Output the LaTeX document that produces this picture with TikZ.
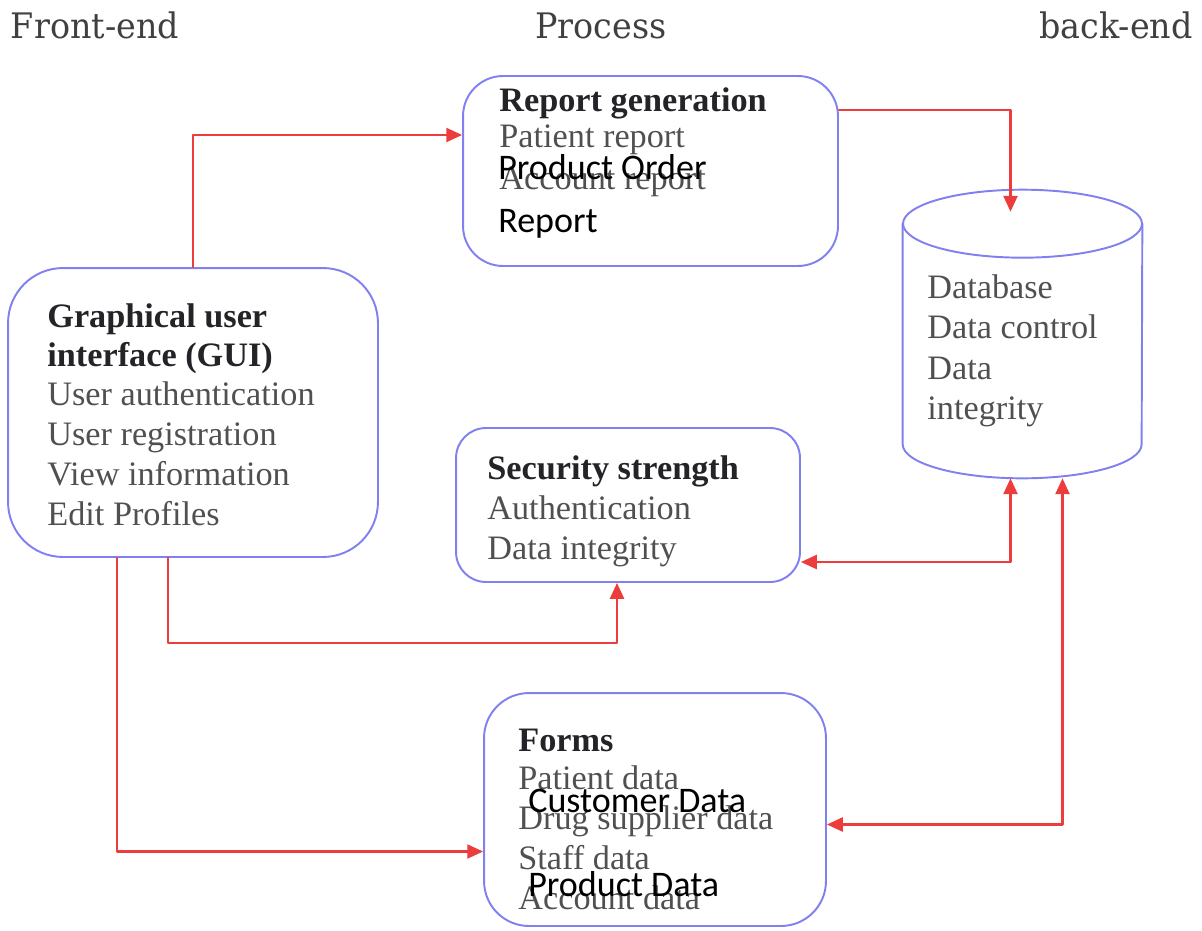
\documentclass[tikz,border=0pt]{standalone}
\usepackage{fontspec}
\setmainfont{Liberation Serif}
\newfontfamily\calibfont{Carlito}
\newfontfamily\headfont[FakeStretch=0.95]{DejaVu Serif}
\usetikzlibrary{arrows.meta, positioning, calc}
\definecolor{boxblue}{RGB}{128,128,240}
\definecolor{linkred}{RGB}{236,60,60}
\definecolor{itemgray}{RGB}{80,80,80}
\definecolor{headgray}{RGB}{36,36,40}

\begin{document}
\begin{tikzpicture}[x=0.02cm, y=-0.02cm, >={Triangle[length=9pt, width=8pt]}, line cap=round, line join=round]
    % Styles
    \tikzset{
        procbox/.style={draw=boxblue, line width=1.1pt, inner sep=0pt},
        dbline/.style={draw=boxblue, line width=1.1pt},
        headtxt/.style={anchor=base west, inner sep=0pt, text=headgray, font=\fontsize{19.5}{22}\selectfont\bfseries},
        itemtxt/.style={anchor=base west, inner sep=0pt, text=itemgray, font=\fontsize{19.5}{22}\selectfont},
        overtxt/.style={anchor=base west, inner sep=0pt, text=black, font=\calibfont\fontsize{20.5}{24}\selectfont},
        coltxt/.style={anchor=base, inner sep=0pt, text=black!75, font=\headfont\fontsize{20}{22}\selectfont},
        link/.style={draw=linkred, line width=1.2pt, ->},
        dlink/.style={draw=linkred, line width=1.2pt, <->}
    }
    \useasboundingbox (0,0) rectangle (1202,930);

    % --- Column titles ---
    \node[coltxt] (front) at (95,38) {Front-end};
    \node[coltxt] (proc) at (601,38) {Process};
    \node[coltxt] (back) at (1116,38) {back-end};

    % --- Boxes ---
    \node[procbox, minimum width=7.5cm, minimum height=3.8cm, rounded corners=0.8cm] (rep) at (650.5,171) {};
    \node[procbox, minimum width=7.4cm, minimum height=5.78cm, rounded corners=1.1cm] (gui) at (193,412.5) {};
    \node[procbox, minimum width=6.88cm, minimum height=3.08cm, rounded corners=0.6cm] (sec) at (628,505) {};
    \node[procbox, minimum width=6.84cm, minimum height=4.66cm, rounded corners=0.9cm] (frm) at (655,809.5) {};

    % --- Database cylinder ---
    \node[minimum width=4.78cm, minimum height=5.76cm, inner sep=0pt] (db) at (1022.5,334) {};
    \draw[dbline] ($(db.north west)+(0,34)$) -- ($(db.south west)+(0,-34)$)
        arc[start angle=180, end angle=360, x radius=2.39cm, y radius=0.68cm]
        -- ($(db.north east)+(0,34)$);
    \draw[dbline] ($(db.north)+(0,34)$) ellipse[x radius=2.39cm, y radius=0.68cm];

    % --- Report generation ---
    \node[headtxt] (rep1) at (499,111) {Report generation};
    \node[itemtxt] (rep2) at (499,147) {Patient report};
    \node[itemtxt] (rep3) at (499,189) {Account report};
    \node[overtxt] (rep4) at (498,179) {Product Order};
    \node[overtxt] (rep5) at (498,232) {Report};

    % --- GUI ---
    \node[headtxt] (gui1) at (47,327) {Graphical user};
    \node[headtxt] (gui2) at (47,366) {interface (GUI)};
    \node[itemtxt] (gui3) at (47,405) {User authentication};
    \node[itemtxt] (gui4) at (47,445) {User registration};
    \node[itemtxt] (gui5) at (47,485) {View information};
    \node[itemtxt] (gui6) at (47,525) {Edit Profiles};

    % --- Security ---
    \node[headtxt] (sec1) at (487,479) {Security strength};
    \node[itemtxt] (sec2) at (487,519) {Authentication};
    \node[itemtxt] (sec3) at (487,559) {Data integrity};

    % --- Database ---
    \node[itemtxt] (db1) at (927,298) {Database};
    \node[itemtxt] (db2) at (927,338) {Data control};
    \node[itemtxt] (db3) at (927,379) {Data};
    \node[itemtxt] (db4) at (927,419) {integrity};

    % --- Forms ---
    \node[headtxt] (frm1) at (518,751) {Forms};
    \node[itemtxt] (frm2) at (518,789) {Patient data};
    \node[itemtxt] (frm3) at (518,829) {Drug supplier data};
    \node[itemtxt] (frm4) at (518,869) {Staff data};
    \node[itemtxt] (frm5) at (518,909) {Account data};
    \node[overtxt] (frm6) at (528,812) {Customer Data};
    \node[overtxt] (frm7) at (528,896) {Product Data};

    % --- Connectors ---
    \draw[link] (gui.north) |- ($(rep.west)+(0,-36)$);
    \draw[link] ($(rep.east)+(0,-61)$) -| ($(db.north)+(-12,22)$);
    \draw[dlink] ($(sec.east)+(0,57)$) -| ($(db.south)+(-12,0)$);
    \draw[link] ($(gui.south)+(-25,0)$) -- ++(0,85) -| ($(sec.south)+(-11,0)$);
    \draw[link] ($(gui.south)+(-76,0)$) |- ($(frm.west)+(0,42)$);
    \draw[dlink] ($(frm.east)+(0,15)$) -| ($(db.south)+(40,0)$);
\end{tikzpicture}
\end{document}
